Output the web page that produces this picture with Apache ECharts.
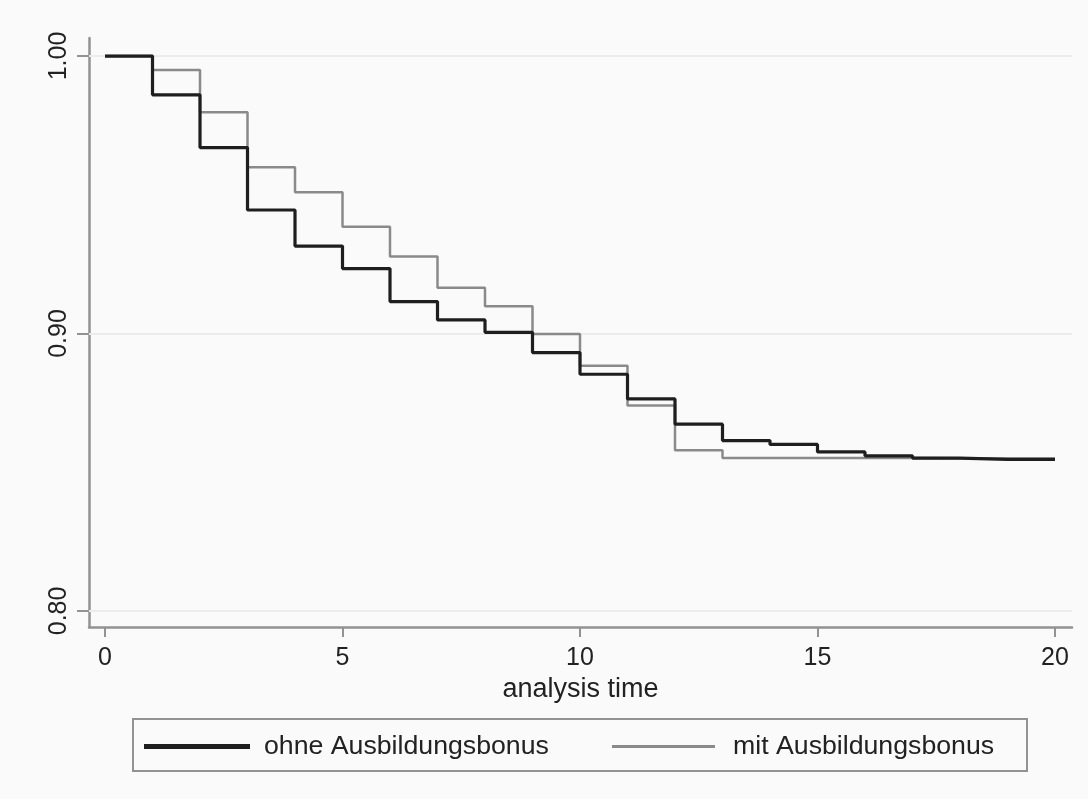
<!DOCTYPE html>
<html>
<head>
<meta charset="utf-8">
<script src="https://cdn.jsdelivr.net/npm/echarts@6/dist/echarts.min.js"></script>
<style>
  html, body { margin: 0; padding: 0; background: #fafafa; }
  #chart { width: 1088px; height: 799px; }
</style>
</head>
<body>
<div id="chart"></div>
<script>
// ---- data ----
const times = [0, 1, 2, 3, 4, 5, 6, 7, 8, 9, 10, 11, 12, 13, 14, 15, 16, 17, 18, 19, 20];
const ohneValues = [1.000, 0.986, 0.967, 0.9445, 0.9315, 0.9234, 0.9115, 0.9049, 0.9004, 0.8931, 0.8853,
                    0.8764, 0.8673, 0.8614, 0.8600, 0.8573, 0.8559, 0.8551, 0.8546, 0.8546, 0.8546];
const mitValues  = [1.000, 0.995, 0.9797, 0.9599, 0.9509, 0.9385, 0.9277, 0.9165, 0.9098, 0.8998, 0.8884,
                    0.8740, 0.8579, 0.8551, 0.8551, 0.8551, 0.8551, 0.8550, 0.8549, 0.8549, 0.8549];
const seriesNames = ['ohne Ausbildungsbonus', 'mit Ausbildungsbonus'];
const xTicks = [0, 5, 10, 15, 20];
const yTicks = [0.80, 0.90, 1.00];
const xTitle = 'analysis time';

const FONT = '"Liberation Sans", Arial, sans-serif';
const axisGrey = '#929292';
const darkLine = '#1e1e1e';
const greyLine = '#8a8a8a';

const chart = echarts.init(document.getElementById('chart'), null, { renderer: 'canvas' });

const toPairs = (vals) => times.map((t, i) => [t, vals[i]]);

chart.setOption({
  backgroundColor: '#fafafa',
  animation: false,
  grid: { left: 89, right: 16, top: 38, bottom: 172, containLabel: false },
  xAxis: {
    type: 'value',
    min: -0.337,
    max: 20.358,
    name: xTitle,
    nameLocation: 'middle',
    nameGap: 49,
    nameTextStyle: { fontFamily: FONT, fontSize: 27, color: '#222' },
    axisLine: { show: true, onZero: false, lineStyle: { color: axisGrey, width: 2.5 } },
    axisTick: { show: true, length: 10, customValues: xTicks, lineStyle: { color: axisGrey, width: 2 } },
    axisLabel: { show: true, customValues: xTicks, margin: 19, fontFamily: FONT, fontSize: 25, color: '#222' },
    splitLine: { show: false }
  },
  yAxis: {
    type: 'value',
    min: 0.7942,
    max: 1.0065,
    axisLine: { show: true, onZero: false, lineStyle: { color: axisGrey, width: 2.5 } },
    axisTick: { show: true, length: 12, customValues: yTicks, lineStyle: { color: axisGrey, width: 2 } },
    axisLabel: {
      show: true, customValues: yTicks, rotate: 90, margin: 17,
      fontFamily: FONT, fontSize: 25, color: '#222',
      formatter: (v) => v.toFixed(2)
    },
    splitLine: { show: false }
  },
  legend: [
    {
      data: [{ name: seriesNames[0], icon: 'rect', itemStyle: { color: darkLine } }],
      left: 139, top: 728,
      itemWidth: 106, itemHeight: 5,
      textStyle: { fontFamily: FONT, fontSize: 26.7, color: '#222', padding: [0, 0, 0, 9] },
      selectedMode: false
    },
    {
      data: [{ name: seriesNames[1], icon: 'rect', itemStyle: { color: greyLine } }],
      left: 607, top: 728,
      itemWidth: 103, itemHeight: 3,
      textStyle: { fontFamily: FONT, fontSize: 26.7, color: '#222', padding: [0, 0, 0, 13] },
      selectedMode: false
    }
  ],
  graphic: [
    {
      type: 'rect',
      shape: { x: 133, y: 719, width: 894, height: 52 },
      style: { fill: 'transparent', stroke: axisGrey, lineWidth: 2 },
      silent: true
    }
  ],
  series: [
    {
      type: 'line',
      name: '__grid',
      data: [],
      z: 1,
      silent: true,
      markLine: {
        z: 1,
        silent: true,
        symbol: ['none', 'none'],
        label: { show: false },
        lineStyle: { color: '#ececec', width: 2, type: 'solid' },
        data: yTicks.map(v => ({ yAxis: v }))
      }
    },
    {
      type: 'line',
      name: seriesNames[1],
      data: toPairs(mitValues),
      step: 'end',
      showSymbol: false,
      symbol: 'none',
      clip: false,
      z: 3,
      lineStyle: { color: greyLine, width: 2.5 },
      itemStyle: { color: greyLine }
    },
    {
      type: 'line',
      name: seriesNames[0],
      data: toPairs(ohneValues),
      step: 'end',
      showSymbol: false,
      symbol: 'none',
      clip: false,
      z: 4,
      lineStyle: { color: darkLine, width: 3.2 },
      itemStyle: { color: darkLine }
    }
  ]
});
</script>
</body>
</html>
